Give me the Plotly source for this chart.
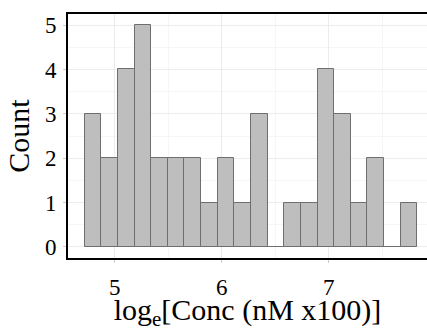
import plotly.graph_objects as go

# Histogram data
bin_start = 4.718
bin_width = 0.1556
counts = [3, 2, 4, 5, 2, 2, 2, 1, 2, 1, 3, 0, 1, 1, 4, 3, 1, 2, 0, 1]
x_ticks = [5, 6, 7]
y_ticks = [0, 1, 2, 3, 4, 5]

centers = [bin_start + bin_width * (i + 0.5) for i in range(len(counts))]

FONT = "Liberation Serif"

fig = go.Figure(go.Bar(
    x=centers, y=counts, width=[bin_width] * len(counts),
    marker=dict(color="#bebebe", line=dict(color="#6e6e6e", width=1)),
))

fig.update_layout(
    width=427, height=331,
    margin=dict(l=68, r=0, t=14, b=73),
    plot_bgcolor="white", paper_bgcolor="white",
    font=dict(family=FONT, color="black", size=23),
    showlegend=False,
    bargap=0,
)
fig.update_xaxes(
    range=[4.562, 7.92], tickmode="array", tickvals=x_ticks,
    ticktext=[str(v) for v in x_ticks],
    showline=True, linecolor="black", linewidth=2, mirror=True,
    ticks="outside", ticklen=3, tickcolor="#cccccc", tickwidth=1,
    ticklabelstandoff=4,
    showgrid=True, gridcolor="#ececec", gridwidth=1,
    minor=dict(tickmode="array", tickvals=[4.5, 5.5, 6.5, 7.5], showgrid=True, gridcolor="#f6f6f6", gridwidth=1),
    zeroline=False,
    tickfont=dict(size=23, family=FONT, color="black"),
    title=dict(text="log<sub>e</sub>[Conc (nM x100)]", font=dict(size=30, family=FONT, color="black"), standoff=6),
)
fig.update_yaxes(
    range=[-0.25, 5.25], tickmode="array", tickvals=y_ticks,
    ticktext=[str(v) for v in y_ticks],
    showline=True, linecolor="black", linewidth=2, mirror=False,
    ticks="outside", ticklen=3, tickcolor="#cccccc", tickwidth=1,
    ticklabelstandoff=2,
    showgrid=True, gridcolor="#ececec", gridwidth=1,
    minor=dict(tickmode="array", tickvals=[0.5, 1.5, 2.5, 3.5, 4.5], showgrid=True, gridcolor="#f6f6f6", gridwidth=1),
    zeroline=False,
    tickfont=dict(size=23, family=FONT, color="black"),
    title=dict(text="Count", font=dict(size=30, family=FONT, color="black"), standoff=6),
)

fig.write_html("out.html")
